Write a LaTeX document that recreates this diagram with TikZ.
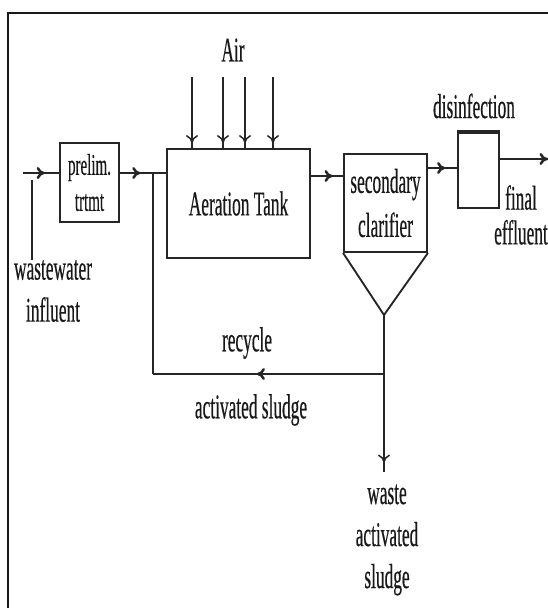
\documentclass[tikz,border=0pt]{standalone}
\usepackage{fontspec}
\setmainfont{Liberation Serif}[FakeStretch=0.5,FakeBold=0.4]
\usetikzlibrary{arrows.meta,decorations.markings}

\tikzset{
  mainline/.style={line width=1.9pt,draw=black!85},
  thinline/.style={line width=1.1pt,draw=black!85},
  unitbox/.style={draw=black!85,line width=1.4pt,inner sep=0pt,align=center,text=black!90},
  midarrow/.style={decoration={markings,mark=at position #1 with {\arrow{To[length=6pt,width=9pt]}}},postaction={decorate}},
  lbl/.style={align=center,inner sep=0pt,text=black!90},
}
\newcommand{\bigtxt}{\fontsize{26}{31.5}\selectfont}

\begin{document}
\begin{tikzpicture}[x=0.75pt,y=0.75pt,yscale=-1,xscale=1]
\useasboundingbox (0,0) rectangle (548,608);
\clip (0,0) rectangle (548,608);

% frame
\draw [line width=2.2pt,black!90] (8,640) -- (8,13) -- (580,13);

% Units
\node [unitbox,minimum width=44.25pt,minimum height=59.25pt,font=\fontsize{22.5}{27}\selectfont] (prelim) at (89.5,182.5) {prelim.\\trtmt};
\node [unitbox,minimum width=107.25pt,minimum height=81.75pt,font=\bigtxt] (aer) at (238.5,203.5) {Aeration Tank};
\node [unitbox,minimum width=62.25pt,minimum height=73.5pt,font=\fontsize{26}{33}\selectfont] (clar) at (385.5,203) {secondary\\clarifier};
\node [unitbox,minimum width=30.75pt,minimum height=56.25pt] (dis) at (478.5,170.5) {};
\draw [line width=2.4pt,black!85] (dis.north west) -- (dis.north east);

% clarifier hopper
\coordinate (apex) at (384,315);
\draw [unitbox] (clar.south west) -- (apex) -- (clar.south east);

% Text Node
\node [lbl,font=\bigtxt] (air) at (233,50) {Air};
\node [lbl,font=\bigtxt] (disl) at (474,106) {disinfection};
\node [lbl,font=\fontsize{26}{26}\selectfont] (fin) at (521,215) {final\\effluent};
\node [lbl,font=\bigtxt] (infl) at (53,291) {wastewater\\influent};
\node [lbl,font=\bigtxt] (rec) at (247,343) {recycle};
\node [lbl,font=\bigtxt] (ras) at (251,410) {activated sludge};
\node [lbl,font=\bigtxt] (was) at (387,540) {waste\\activated\\sludge};

% main flow
\coordinate (in) at (23,173);
\coordinate (j1) at (153,173);
\coordinate (out) at (550,159);
\draw [mainline,midarrow=0.6] (in) -- (in -| prelim.west);
\draw [mainline,midarrow=0.44] (in -| prelim.east) -- (j1) -- (j1 -| aer.west);
\draw [mainline,midarrow=0.68] (310,176) coordinate (a1) -- (a1 -| clar.west);
\draw [mainline,midarrow=0.6] (427,168) coordinate (c1) -- (c1 -| dis.west);
\draw [mainline,midarrow=0.95] (out -| dis.east) -- (out);

% influent label line
\draw [thinline] (32,180) -- (32,0 |- infl.north);

% air
\foreach \x in {192,223,245,273}
  \draw [thinline,midarrow=0.93] (\x,77) -- (\x,0 |- aer.north);

% recycle and waste
\coordinate (j2) at (384,374);
\coordinate (wend) at (384,472);
\draw [thinline] (j1) -- (j1 |- j2);
\draw [mainline,midarrow=0.55] (j2) -- (j1 |- j2);
\draw [thinline,midarrow=0.94] (apex) -- (j2) -- (wend);

\end{tikzpicture}
\end{document}
